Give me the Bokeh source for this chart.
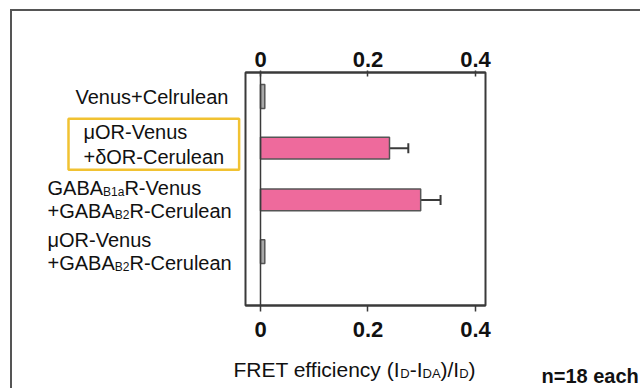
from bokeh.plotting import figure
from bokeh.layouts import row, column
from bokeh.models import (Range1d, LinearAxis, FixedTicker, NumeralTickFormatter,
                          Label, Span, Whisker, TeeHead, ColumnDataSource)
from bokeh.embed import file_html
from bokeh.resources import INLINE

# ---------------- data ----------------
# each category label: list of lines, each line a list of (text, is_subscript)
label_lines = [
    [[("Venus+Celrulean", False)]],
    [[("μOR-Venus", False)], [("+δOR-Cerulean", False)]],
    [[("GABA", False), ("B1a", True), ("R-Venus", False)],
     [("+GABA", False), ("B2", True), ("R-Cerulean", False)]],
    [[("μOR-Venus", False)],
     [("+GABA", False), ("B2", True), ("R-Cerulean", False)]],
]
fret_values = [0.008, 0.240, 0.298, 0.008]
fret_errors = [0.0, 0.035, 0.037, 0.0]
highlighted = [False, True, False, False]
x_ticks = [0, 0.2, 0.4]
x_title = [("FRET efficiency (I", False), ("D", True), ("-I", False), ("DA", True),
           (")/I", False), ("D", True), (")", False)]
note_text = "n=18 each"

# ---------------- style ----------------
FONT = "Liberation Sans"
DARK = "#3a3a3a"
TXT = "#111111"
PINK = "#EE6A9C"
GRAY = "#A8A8A8"
YELLOW = "#F1C232"
FS = 20          # category label size
SUB = 12         # subscript size
TFS = 21         # axis title size
TSUB = 13

# Arial / Liberation Sans advance widths (1/1000 em)
W = {'G': 778, 'A': 667, 'B': 667, 'R': 722, '-': 333, 'V': 667, 'e': 556, 'n': 556,
     'u': 556, 's': 500, '+': 584, 'C': 722, 'r': 333, 'l': 222, 'a': 556, '1': 556,
     '2': 556, 'μ': 576, 'O': 778, 'F': 611, 'E': 667, 'T': 611, ' ': 278, 'f': 278,
     'i': 222, 'c': 500, 'y': 500, '(': 333, ')': 333, '/': 278, 'I': 278, 'D': 722,
     'δ': 556}


def text_width(t, size):
    return sum(W.get(ch, 556) for ch in t) * size / 1000.0


ys = list(range(len(label_lines)))
colors = [PINK if v > 0.05 else GRAY for v in fret_values]
heights = [0.42 if v > 0.05 else 0.46 for v in fret_values]

# ---------------- geometry (px) ----------------
LEFT_W = 229            # label panel width
MAIN_W = 392
TOP_H = 340
BOT_H = 37
FRAME_L = 4
FRAME_W = 240
FRAME_T = 61
FRAME_H = 233
FRAME_B = TOP_H - FRAME_T - FRAME_H

x0, x1 = -0.0279, 0.4186
y_bottom, y_top = 4.04, -0.464

# ---------------- main chart ----------------
p = figure(width=MAIN_W, height=TOP_H,
           x_range=Range1d(x0, x1), y_range=Range1d(y_bottom, y_top),
           x_axis_location="above", y_axis_location=None,
           output_backend="svg", toolbar_location=None,
           min_border_left=FRAME_L, min_border_right=MAIN_W - FRAME_L - FRAME_W,
           min_border_top=FRAME_T, min_border_bottom=FRAME_B,
           background_fill_color="white", border_fill_color="white",
           outline_line_color=DARK, outline_line_width=2)
p.grid.visible = False

top = p.xaxis[0]
bottom = LinearAxis()
p.add_layout(bottom, "below")
for ax in (top, bottom):
    ax.ticker = FixedTicker(ticks=x_ticks)
    ax.formatter = NumeralTickFormatter(format="0.[0]")
    ax.minor_tick_line_color = None
    ax.axis_line_color = DARK
    ax.axis_line_width = 2
    ax.major_tick_line_color = DARK
    ax.major_tick_line_width = 1.5
    ax.major_label_text_font = FONT
    ax.major_label_text_font_style = "bold"
    ax.major_label_text_font_size = "22px"
    ax.major_label_text_color = TXT
top.major_tick_in = 4
top.major_tick_out = 2
top.major_label_standoff = 4
bottom.major_tick_in = 0
bottom.major_tick_out = 6
bottom.major_label_standoff = 10

p.add_layout(Span(location=0, dimension="height", line_color=DARK, line_width=1.5))

src = ColumnDataSource(dict(y=ys, v=fret_values, c=colors, h=heights))
p.hbar(y="y", left=0, right="v", height="h", fill_color="c", line_color="#555555",
       line_width=1.5, source=src)

ey = [y for y, e in zip(ys, fret_errors) if e > 0]
elo = [v for v, e in zip(fret_values, fret_errors) if e > 0]
ehi = [v + e for v, e in zip(fret_values, fret_errors) if e > 0]
esrc = ColumnDataSource(dict(base=ey, lower=elo, upper=ehi))
p.add_layout(Whisker(source=esrc, base="base", lower="lower", upper="upper",
                     dimension="width", lower_head=None,
                     upper_head=TeeHead(size=10, line_color=DARK, line_width=2),
                     line_color=DARK, line_width=2))


def blank_fig(w, h, y_range, top_b=0, bot_b=0):
    f = figure(width=w, height=h, x_range=Range1d(0, w), y_range=y_range,
               x_axis_location=None, y_axis_location=None,
               output_backend="svg", toolbar_location=None,
               min_border_left=0, min_border_right=0,
               min_border_top=top_b, min_border_bottom=bot_b,
               outline_line_color=None,
               background_fill_color="white", border_fill_color="white")
    f.grid.visible = False
    return f


def add_pieces(f, pieces, x, y, dy, size=FS, sub=SUB, drop=4, bold=False):
    for t, is_sub in pieces:
        fs = sub if is_sub else size
        f.add_layout(Label(x=x, y=y, y_offset=dy - (drop if is_sub else 0),
                           text=t, text_font=FONT, text_font_size=f"{fs}px",
                           text_font_style="bold" if bold else "normal",
                           text_align="left", text_baseline="alphabetic",
                           text_color=TXT))
        x += text_width(t, fs)


# ---------------- category labels (share the chart's y scale) ----------------
lf = blank_fig(LEFT_W, TOP_H, p.y_range, FRAME_T, FRAME_B)
for y, lines, hl in zip(ys, label_lines, highlighted):
    if hl:
        txt = "\n".join("".join(t for t, _ in ln) for ln in lines)
        lf.add_layout(Label(x=56, y=y, y_offset=4, text=txt,
                            text_font=FONT, text_font_size=f"{FS}px",
                            text_line_height=1.13, text_align="left",
                            text_baseline="middle", text_color=TXT,
                            border_line_color=YELLOW, border_line_width=2.5,
                            padding=dict(left=15, right=15, top=2, bottom=2)))
    elif len(lines) == 1:
        add_pieces(lf, lines[0], 63, y, -0.5)
    else:
        add_pieces(lf, lines[0], 35, y, 11.5)
        add_pieces(lf, lines[1], 35, y, -11.5)

# ---------------- bottom strip: axis title + note ----------------
bf = blank_fig(628, BOT_H, Range1d(BOT_H, 0))
tw = sum(text_width(t, TSUB if s else TFS) for t, s in x_title)
add_pieces(bf, x_title, 342 - tw / 2, 20, 2, size=TFS, sub=TSUB, drop=3.5)
bf.add_layout(Label(x=529, y=29, y_offset=5, text=note_text,
                    text_font=FONT, text_font_size="20px", text_font_style="bold",
                    text_align="left", text_baseline="alphabetic", text_color=TXT))

layout = column(row(lf, p), bf,
                styles={"margin-left": "10px", "margin-top": "9px",
                        "border-left": "2px solid #555555",
                        "border-top": "2px solid #555555"})

open("out.html", "w").write(file_html(layout, INLINE))
